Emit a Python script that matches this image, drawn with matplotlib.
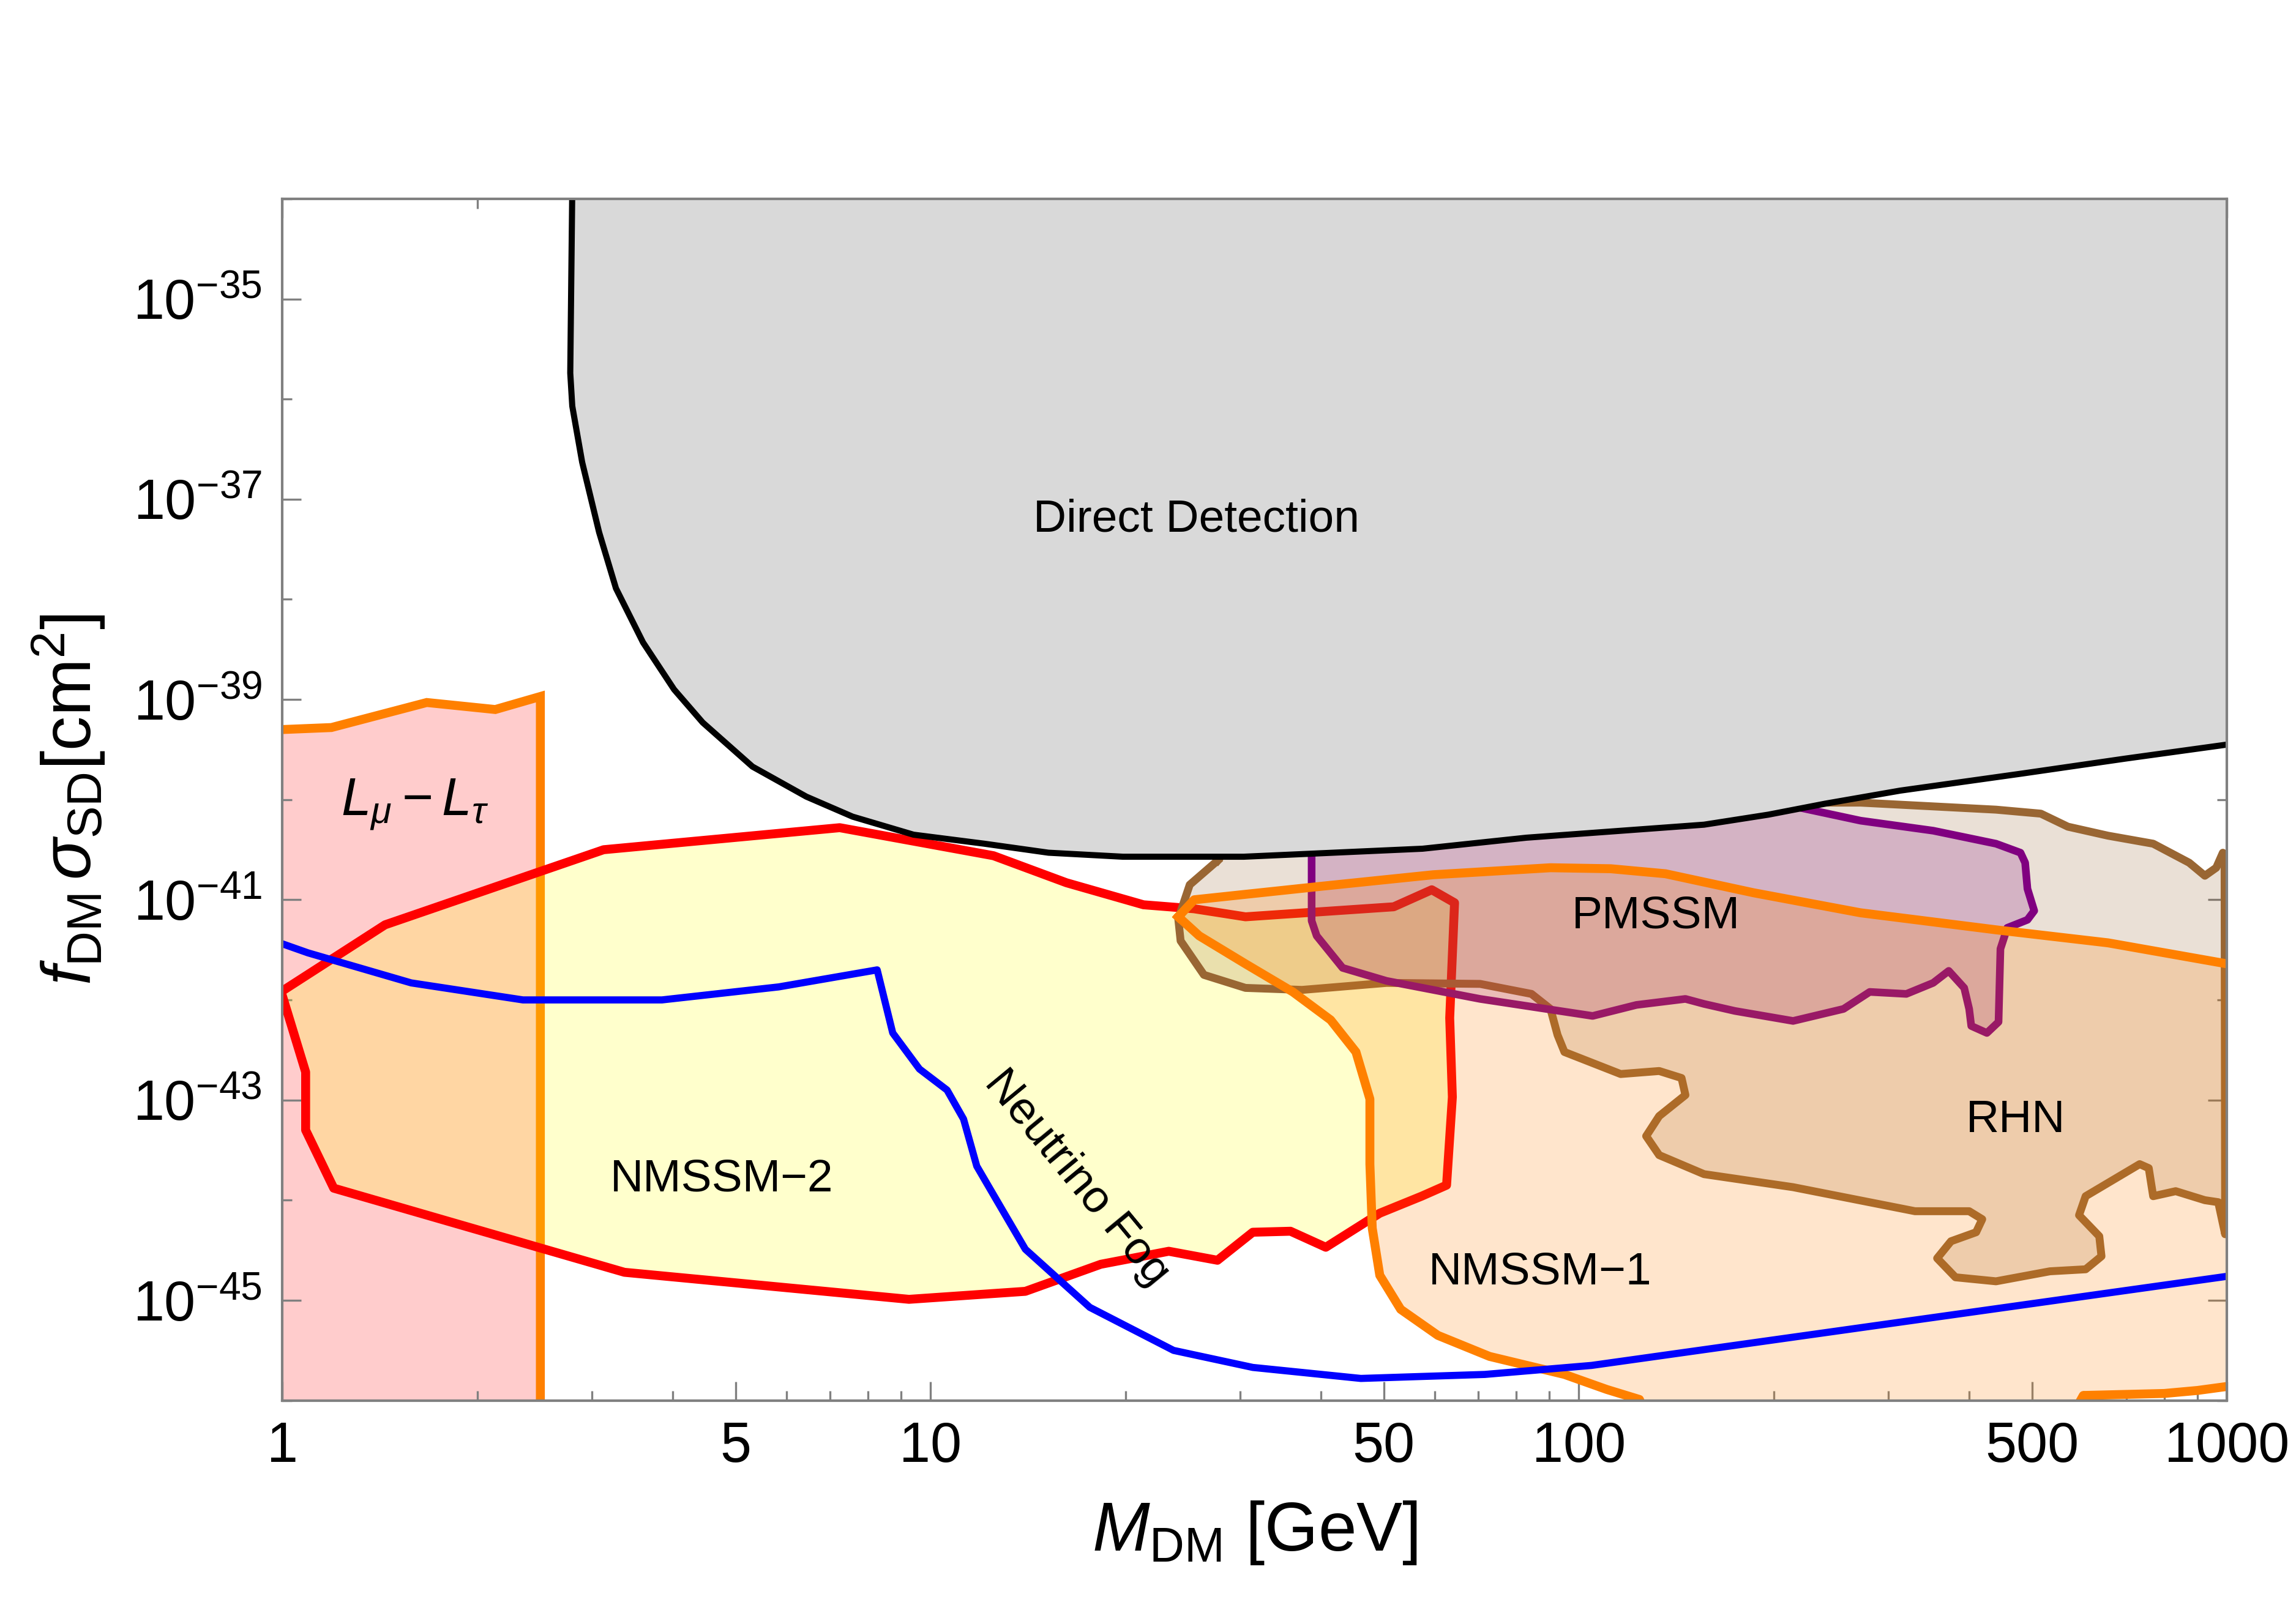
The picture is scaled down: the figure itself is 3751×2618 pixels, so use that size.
import numpy as np
import matplotlib
matplotlib.use("Agg")
import matplotlib.pyplot as plt
from matplotlib.ticker import FixedLocator, FixedFormatter, NullFormatter

plt.rcParams['font.family'] = ['Liberation Sans', 'DejaVu Sans']
plt.rcParams['mathtext.fontset'] = 'custom'
plt.rcParams['mathtext.rm'] = 'Liberation Sans'
plt.rcParams['mathtext.it'] = 'Liberation Sans:italic'
plt.rcParams['mathtext.bf'] = 'Liberation Sans:bold'

# x in GeV, y given as log10(sigma / cm^2)
# direct detection bound
dd_x = [2.80, 2.78, 2.80, 2.90, 3.08, 3.27, 3.60, 4.02, 4.45, 5.31, 6.43, 7.58, 9.41,
        12.1, 15.2, 19.8, 30.4, 57.4, 83, 156, 196, 240, 313, 482, 697, 1000]
dd_y = [-33.9, -35.74, -36.07, -36.63, -37.33, -37.89, -38.43, -38.90, -39.23, -39.67,
        -39.97, -40.17, -40.35, -40.44, -40.53, -40.57, -40.57, -40.49, -40.38, -40.25,
        -40.15, -40.04, -39.91, -39.74, -39.59, -39.45]

# L_mu - L_tau
lmu_x = [1.0, 1.19, 1.67, 2.13, 2.50]
lmu_y = [-39.30, -39.28, -39.03, -39.10, -38.97]

# neutrino fog
nu_x = [1.0, 1.095, 1.58, 2.35, 3.85, 5.83, 8.27, 8.74, 9.61, 10.6, 11.24, 11.78, 12.8,
        14.0, 17.6, 23.7, 31.4, 46.1, 71.6, 104.6, 1000]
nu_y = [-41.44, -41.53, -41.83, -42.00, -42.00, -41.87, -41.70, -42.33, -42.69, -42.90,
        -43.19, -43.66, -44.06, -44.49, -45.07, -45.50, -45.67, -45.78, -45.74, -45.65,
        -44.76]

# NMSSM-2
n2_x = [1.0, 1.44, 3.13, 7.24, 12.5, 16.2, 21.3, 25.5, 30.6, 51.8, 59.3, 64.3, 63.2,
        63.8, 62.5, 57.2, 49.3, 40.7, 35.9, 31.4, 27.7, 23.3, 18.3, 14.0, 9.26, 3.37,
        1.20, 1.086, 1.086, 1.0]
n2_y = [-41.91, -41.25, -40.50, -40.28, -40.56, -40.83, -41.05, -41.09, -41.17, -41.07,
        -40.90, -41.03, -42.18, -42.97, -43.85, -43.96, -44.13, -44.47, -44.31, -44.32,
        -44.60, -44.51, -44.64, -44.91, -44.99, -44.72, -43.88, -43.30, -42.72, -41.96]

# NMSSM-1
n1_x = [24.1, 25.5, 39.4, 59.6, 90.4, 112, 136, 186, 272, 440, 655, 1000, 1300, 1300,
        1000, 900, 800, 600, 560, 130, 124, 110.4, 95, 72.8, 60.6, 53.1, 49.3, 48.0,
        47.6, 47.6, 45.3, 41.4, 36.2, 30.6, 25.96, 24.1]
n1_y = [-41.17, -41.00, -40.87, -40.75, -40.68, -40.69, -40.74, -40.93, -41.13, -41.30,
        -41.43, -41.64, -41.75, -45.84, -45.86, -45.90, -45.93, -45.95, -46.3, -46.3,
        -45.99, -45.89, -45.74, -45.56, -45.35, -45.09, -44.75, -44.28, -43.64, -42.99,
        -42.52, -42.20, -41.92, -41.64, -41.36, -41.17]

# RHN
rhn_x = [27.7, 29, 60, 150, 221, 272, 440, 516, 568, 655, 769, 874, 924, 962, 985, 991,
         993, 969, 924, 833, 769, 757, 733, 605, 591, 635, 640, 605, 533, 440, 381, 357,
         375, 410, 419, 400, 330, 214, 156, 133, 127, 133, 146, 144, 133, 116, 95, 92.7,
         90.4, 84.5, 70.4, 50.5, 37.4, 30.6, 26.4, 24.3, 24.1, 25.1, 27.7]
rhn_y = [-40.61, -40.45, -40.30, -40.10, -40.03, -40.03, -40.10, -40.14, -40.27, -40.36,
         -40.44, -40.63, -40.76, -40.68, -40.53, -40.57, -44.34, -44.02, -44.00, -43.91,
         -43.96, -43.68, -43.64, -43.96, -44.15, -44.36, -44.56, -44.69, -44.71, -44.81,
         -44.77, -44.58, -44.41, -44.32, -44.19, -44.11, -44.11, -43.87, -43.74, -43.55,
         -43.36, -43.16, -42.95, -42.78, -42.71, -42.74, -42.52, -42.35, -42.09, -41.94,
         -41.84, -41.83, -41.90, -41.88, -41.75, -41.41, -41.19, -40.85, -40.61]

# PMSSM
pm_x = [38.7, 38.7, 39.4, 43.2, 50.5, 70.4, 105, 122.7, 146, 156, 174, 214, 256, 281,
        320, 352, 372, 393, 400, 403, 426, 444, 447, 458, 492, 504, 492, 488, 480, 440,
        352, 272, 221, 210, 180, 80, 38.7]
pm_y = [-40.45, -41.21, -41.36, -41.68, -41.81, -41.99, -42.16, -42.05, -41.99, -42.04,
        -42.11, -42.21, -42.09, -41.92, -41.94, -41.83, -41.71, -41.88, -42.09, -42.26,
        -42.33, -42.22, -41.49, -41.28, -41.20, -41.11, -40.89, -40.63, -40.53, -40.44,
        -40.31, -40.21, -40.085, -40.05, -40.05, -40.30, -40.45]

x_major = [1, 5, 10, 50, 100, 500, 1000]
x_minor = [2, 3, 4, 6, 7, 8, 9, 20, 30, 40, 60, 70, 80, 90, 200, 300, 400, 600, 700, 800, 900]
y_major_exp = [-35, -37, -39, -41, -43, -45]
y_minor_exp = [-34, -36, -38, -40, -42, -44, -46]


def p(v):
    return 10.0 ** np.array(v)


orange = '#FF8000'
red = '#FF0000'
blue = '#0000FF'
purple = '#800080'
brown = '#996633'

fig = plt.figure(figsize=(3751 / 300, 2618 / 300), dpi=300)
ax = fig.add_axes([0.1230, 0.1258, 0.8470, 0.7501])
ax.set_xscale('log')
ax.set_yscale('log')

# L_mu - L_tau band
ax.fill(lmu_x + [lmu_x[-1], lmu_x[0]], list(p(lmu_y)) + [1e-47, 1e-47],
        color=red, alpha=0.2, lw=0, zorder=1)
ax.plot(lmu_x + [lmu_x[-1]], list(p(lmu_y)) + [1e-47], color=orange, lw=3.5,
        zorder=1.1, solid_joinstyle='miter')

# NMSSM-2
ax.fill(n2_x, p(n2_y), color='#FFFF00', alpha=0.2, lw=0, zorder=2)
ax.plot(n2_x, p(n2_y), color=red, lw=3.5, zorder=2.1)

# RHN
ax.fill(rhn_x, p(rhn_y), color=brown, alpha=0.2, lw=0, zorder=3)
ax.plot(rhn_x, p(rhn_y), color=brown, lw=3.1, zorder=3.1)

# PMSSM
ax.fill(pm_x, p(pm_y), color=purple, alpha=0.2, lw=0, zorder=4)
ax.plot(pm_x, p(pm_y), color=purple, lw=3.0, zorder=4.1)

# NMSSM-1
ax.fill(n1_x, p(n1_y), color=orange, alpha=0.2, lw=0, zorder=5)
ax.plot(n1_x, p(n1_y), color=orange, lw=3.5, zorder=5.1)

# neutrino fog
ax.plot(nu_x, p(nu_y), color=blue, lw=2.8, zorder=6)

# direct detection
ax.fill(dd_x + [1000, 2.80], list(p(dd_y)) + [1e-33, 1e-33], color='#D9D9D9', lw=0, zorder=7)
ax.plot(dd_x, p(dd_y), color='black', lw=2.4, zorder=7.1)

ax.set_xlim(1, 1000)
ax.set_ylim(1e-46, 1e-34)

lab = dict(fontsize=18, zorder=10, ha='center', va='center')
ax.text(25.7, 10 ** -37.2, 'Direct Detection', **lab)
ax.text(1.60, 10 ** -40.05, r'$L_\mu - L_\tau$', fontsize=21, zorder=10, ha='center', va='center')
ax.text(4.76, 10 ** -43.79, 'NMSSM\u22122', **lab)
ax.text(131.5, 10 ** -41.16, 'PMSSM', **lab)
ax.text(472, 10 ** -43.2, 'RHN', **lab)
ax.text(87.2, 10 ** -44.72, 'NMSSM\u22121', **lab)
ax.text(16.8, 10 ** -43.78, 'Neutrino Fog', rotation=-50.5, rotation_mode='anchor', **lab)

ax.xaxis.set_major_locator(FixedLocator(x_major))
ax.xaxis.set_major_formatter(FixedFormatter([str(v) for v in x_major]))
ax.xaxis.set_minor_locator(FixedLocator(x_minor))
ax.xaxis.set_minor_formatter(NullFormatter())
ax.yaxis.set_major_locator(FixedLocator([10.0 ** e for e in y_major_exp]))
ax.yaxis.set_major_formatter(FixedFormatter([r'$10^{%d}$' % e for e in y_major_exp]))
ax.yaxis.set_minor_locator(FixedLocator([10.0 ** e for e in y_minor_exp]))
ax.yaxis.set_minor_formatter(NullFormatter())

for s in ax.spines.values():
    s.set_color('#808080')
    s.set_linewidth(1.0)
    s.set_zorder(12)
ax.tick_params(which='both', direction='in', top=True, right=True, color='#808080',
               width=0.8, labelsize=22, pad=8)
ax.tick_params(which='major', length=7.4)
ax.tick_params(which='minor', length=3.8)

ax.set_xlabel(r'$M_{\mathrm{DM}}$ [GeV]', fontsize=27, labelpad=10)
ax.set_ylabel(r'$f_{\mathrm{DM}}\,\sigma_{\mathrm{SD}}[\mathrm{cm}^2]$', fontsize=27, labelpad=10)

fig.savefig('out.png', dpi=300)
